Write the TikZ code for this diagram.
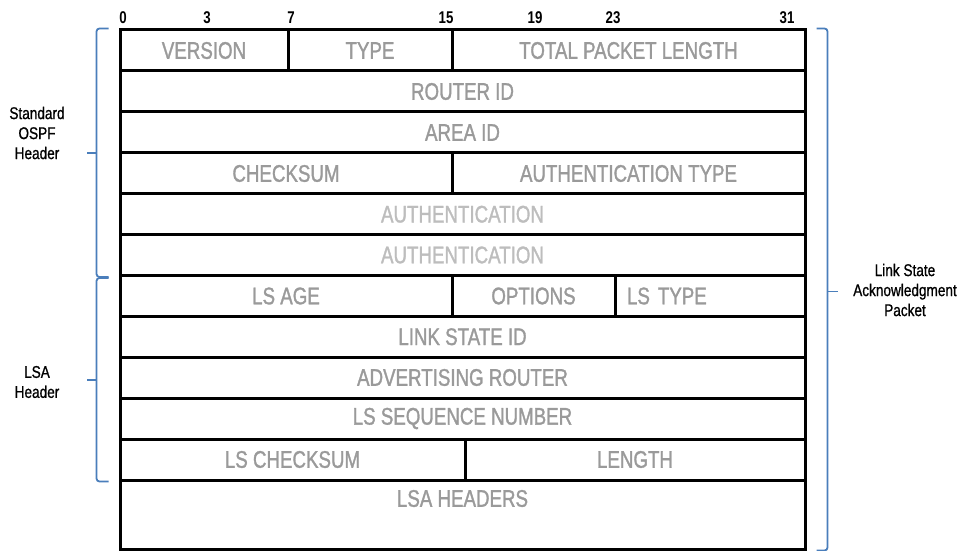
\documentclass[tikz,border=0pt]{standalone}
\usepackage{fontspec}
\setmainfont[FakeStretch=0.78]{Liberation Sans}
\newfontfamily\fieldfont[FakeStretch=0.78,FakeBold=1.3]{Liberation Sans}
\newfontfamily\labelfont[FakeStretch=0.8,FakeBold=0.8]{Liberation Sans}
\usepackage{xcolor}
\usepackage{tikz}
\usetikzlibrary{calc,positioning}

\definecolor{fieldgray}{HTML}{9A9A9A}
\definecolor{authgray}{HTML}{BDBDBD}
\definecolor{braceblue}{HTML}{4A7EBB}

\begin{document}
\begin{tikzpicture}[x=0.5pt,y=-0.5pt,
    field/.style={draw=black,line width=1.5pt,inner sep=0pt,font=\fieldfont\fontsize{12}{14}\selectfont},
    bitnum/.style={font=\fontsize{8.5}{9}\selectfont\bfseries},
    sidelabel/.style={align=center,font=\labelfont\fontsize{8.5}{10}\selectfont},
    bracket/.style={draw=braceblue,line width=0.9pt,rounded corners=1.5pt}]
    \useasboundingbox (0,0) rectangle (965,551);

    % Bit positions
    \foreach \b/\x in {0/123,3/207,7/291,15/446,19/535,23/613,31/787}
        \node[bitnum] (bit\b) at (\x,18) {\b};

    % Header fields
    \foreach \nm/\xa/\xb/\ya/\yb/\col/\txt in {
        version/120/288/30/71/fieldgray/VERSION,
        type/288/452/30/71/fieldgray/TYPE,
        totlen/452/805/30/71/fieldgray/TOTAL PACKET LENGTH,
        routerid/120/805/71/112/fieldgray/ROUTER ID,
        areaid/120/805/112/153/fieldgray/AREA ID,
        checksum/120/452/153/194/fieldgray/CHECKSUM,
        authtype/452/805/153/194/fieldgray/AUTHENTICATION TYPE,
        authA/120/805/194/234.5/authgray/AUTHENTICATION,
        authB/120/805/234.5/275.5/authgray/AUTHENTICATION,
        lsage/120/452/275.5/316.5/fieldgray/LS AGE,
        options/452/615/275.5/316.5/fieldgray/OPTIONS,
        lsid/120/805/316.5/357/fieldgray/LINK STATE ID,
        advrouter/120/805/357/398/fieldgray/ADVERTISING ROUTER,
        lsseq/120/805/398/439/fieldgray/LS SEQUENCE NUMBER,
        lschecksum/120/465/439/480/fieldgray/LS CHECKSUM,
        length/465/805/439/480/fieldgray/LENGTH} {
        \node[field,text=\col,minimum width={(\xb-\xa)*0.5pt},minimum height={(\yb-\ya)*0.5pt}]
            (\nm) at ({(\xa+\xb)/2},{(\ya+\yb)/2}) {\txt};
    }

    % LS type (text sits to the left)
    \node[field,text=fieldgray,minimum height=20.5pt,text width=83pt,inner xsep=6pt,align=left]
        (lstype) at (710,296) {LS TYPE};

    % LSA headers (text near the top)
    \node[field,minimum width=342.5pt,minimum height=34.5pt] (lsahdrs) at (462.5,514.5) {};
    \node[field,draw=none,text=fieldgray] (lsahdrstxt) at ([yshift=-10pt]lsahdrs.north) {LSA HEADERS};

    % Brackets
    \draw[bracket] ([xshift=-5pt]version.north west) -- ++(-6pt,0) |- ([xshift=-5pt]authB.south west);
    \draw[bracket] ($(version.north west)!0.5!(authB.south west)+(-11pt,0)$) -- ++(-5pt,0);
    \draw[bracket] ([xshift=-5pt,yshift=-2pt]lsage.north west) -- ++(-6pt,0) |- ([xshift=-5pt]lschecksum.south west);
    \draw[bracket] ($(lsage.north west)!0.5!(lschecksum.south west)+(-11pt,-1pt)$) -- ++(-5pt,0);
    \draw[bracket] ([xshift=5pt]totlen.north east) -- ++(5.5pt,0) |- ([xshift=5pt]lsahdrs.south east);
    \draw[bracket] ($(totlen.north east)!0.5!(lsahdrs.south east)+(10.5pt,-1pt)$) -- ++(5pt,0);

    % Side labels
    \node[sidelabel] (ospflbl) at (37,133) {Standard\\OSPF\\Header};
    \node[sidelabel] (lsalbl) at (37,382) {LSA\\Header};
    \node[sidelabel] (acklbl) at (905,290) {Link State\\Acknowledgment\\Packet};
\end{tikzpicture}
\end{document}
